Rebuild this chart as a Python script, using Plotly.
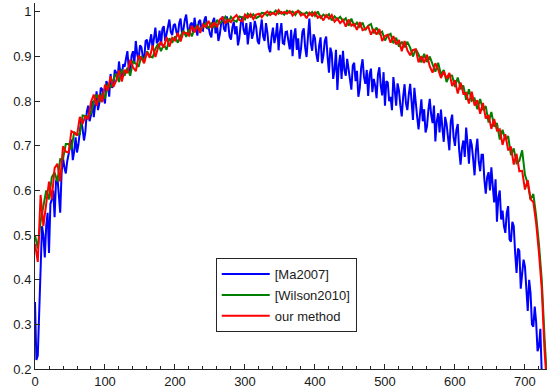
import plotly.graph_objects as go

# x positions (frame index)
frames_ma = list(range(0, 725, 2))   # [Ma2007] sampled every 2
frames = list(range(0, 733, 4))      # other methods sampled every 4

ma2007 = [
    0.35, 0.22, 0.23, 0.33, 0.38, 0.52, 0.50, 0.45, 0.52, 0.55, 0.46, 0.57, 0.58, 0.60, 0.54, 0.62, 0.63, 0.58, 0.55, 0.64,
    0.673, 0.652, 0.638, 0.665, 0.684, 0.705, 0.714, 0.668, 0.688, 0.719, 0.685, 0.703, 0.74, 0.758, 0.738, 0.712, 0.732, 0.776, 0.79, 0.755,
    0.769, 0.80, 0.764, 0.79, 0.822, 0.78, 0.796, 0.83, 0.827, 0.81, 0.795, 0.845, 0.836, 0.81, 0.861, 0.83, 0.835, 0.87, 0.864, 0.85,
    0.889, 0.862, 0.855, 0.883, 0.877, 0.895, 0.912, 0.872, 0.866, 0.902, 0.912, 0.885, 0.935, 0.905, 0.892, 0.925, 0.921, 0.90, 0.893, 0.935,
    0.938, 0.915, 0.933, 0.95, 0.918, 0.945, 0.965, 0.93, 0.935, 0.958, 0.925, 0.962, 0.968, 0.935, 0.951, 0.97, 0.983, 0.955, 0.948, 0.97,
    0.973, 0.955, 0.946, 0.975, 0.985, 0.952, 0.96, 0.982, 0.994, 0.965, 0.947, 0.972, 0.976, 0.955, 0.987, 0.962, 0.947, 0.978, 0.982, 0.96,
    0.958, 0.982, 0.99, 0.962, 0.966, 0.95, 0.943, 0.978, 0.987, 0.952, 0.973, 0.935, 0.949, 0.975, 0.99, 0.962, 0.956, 0.99, 0.974, 0.945,
    0.938, 0.965, 0.978, 0.95, 0.968, 0.925, 0.942, 0.975, 0.99, 0.96, 0.949, 0.975, 0.927, 0.955, 0.977, 0.94, 0.952, 0.98, 0.966, 0.935,
    0.928, 0.96, 0.983, 0.945, 0.935, 0.975, 0.954, 0.92, 0.91, 0.945, 0.965, 0.93, 0.946, 0.975, 0.914, 0.955, 0.975, 0.93, 0.928, 0.955,
    0.956, 0.935, 0.916, 0.96, 0.901, 0.945, 0.963, 0.915, 0.941, 0.895, 0.916, 0.955, 0.963, 0.92, 0.899, 0.945, 0.985, 0.93, 0.913, 0.95,
    0.941, 0.905, 0.888, 0.925, 0.943, 0.885, 0.902, 0.935, 0.945, 0.90, 0.864, 0.92, 0.907, 0.85, 0.87, 0.915, 0.825, 0.88, 0.904, 0.85,
    0.913, 0.87, 0.857, 0.895, 0.873, 0.84, 0.826, 0.88, 0.886, 0.845, 0.868, 0.81, 0.829, 0.875, 0.894, 0.855, 0.839, 0.87, 0.812, 0.86,
    0.873, 0.82, 0.85, 0.835, 0.807, 0.86, 0.876, 0.835, 0.813, 0.865, 0.79, 0.845, 0.842, 0.80, 0.81, 0.78, 0.854, 0.825, 0.79, 0.84,
    0.824, 0.79, 0.766, 0.81, 0.838, 0.795, 0.78, 0.815, 0.839, 0.80, 0.758, 0.83, 0.79, 0.765, 0.737, 0.78, 0.804, 0.755, 0.782, 0.73,
    0.743, 0.78, 0.805, 0.77, 0.751, 0.79, 0.71, 0.755, 0.773, 0.73, 0.781, 0.74, 0.709, 0.765, 0.749, 0.72, 0.69, 0.755, 0.77, 0.72,
    0.70, 0.735, 0.749, 0.69, 0.658, 0.695, 0.712, 0.675, 0.741, 0.705, 0.66, 0.715, 0.702, 0.67, 0.634, 0.69, 0.716, 0.665, 0.643, 0.68,
    0.68, 0.625, 0.593, 0.63, 0.641, 0.60, 0.652, 0.61, 0.573, 0.625, 0.53, 0.585, 0.60, 0.535, 0.555, 0.52, 0.505, 0.55, 0.565, 0.49,
    0.485, 0.53, 0.52, 0.46, 0.415, 0.47, 0.465, 0.38, 0.41, 0.445, 0.43, 0.385, 0.33, 0.40, 0.37, 0.30, 0.295, 0.34, 0.305, 0.24,
    0.25, 0.29, 0.19,
]

wilson2010 = [
    0.50, 0.47, 0.53, 0.57, 0.60, 0.58, 0.63, 0.64, 0.62, 0.67,
    0.671, 0.704, 0.704, 0.692, 0.731, 0.725, 0.726, 0.768, 0.767, 0.766,
    0.773, 0.799, 0.815, 0.798, 0.817, 0.806, 0.839, 0.831, 0.848, 0.862,
    0.843, 0.872, 0.857, 0.875, 0.857, 0.889, 0.884, 0.877, 0.901, 0.89,
    0.912, 0.901, 0.898, 0.917, 0.929, 0.912, 0.927, 0.915, 0.941, 0.931,
    0.945, 0.931, 0.946, 0.958, 0.944, 0.961, 0.945, 0.962, 0.97, 0.959,
    0.967, 0.975, 0.963, 0.976, 0.964, 0.982, 0.974, 0.98, 0.989, 0.976,
    0.989, 0.981, 0.978, 0.99, 0.988, 0.983, 0.996, 0.989, 0.995, 0.986,
    0.99, 0.998, 0.997, 0.992, 1.0, 0.996, 1.003, 0.996, 1.0, 0.994,
    1.003, 0.998, 1.001, 0.993, 1.003, 0.998, 0.994, 0.999, 0.994, 1.0,
    0.991, 1.001, 0.987, 0.994, 0.989, 0.995, 0.981, 0.99, 0.983, 0.989,
    0.98, 0.986, 0.969, 0.985, 0.969, 0.976, 0.967, 0.976, 0.959, 0.969,
    0.973, 0.952, 0.965, 0.951, 0.956, 0.936, 0.947, 0.951, 0.93, 0.942,
    0.922, 0.933, 0.921, 0.933, 0.92, 0.90, 0.917, 0.905, 0.887, 0.906,
    0.888, 0.90, 0.885, 0.866, 0.886, 0.86, 0.87, 0.843, 0.858, 0.857,
    0.832, 0.853, 0.829, 0.835, 0.803, 0.827, 0.801, 0.806, 0.782, 0.805,
    0.78, 0.789, 0.752, 0.776, 0.743, 0.751, 0.714, 0.736, 0.713, 0.722,
    0.679, 0.694, 0.661, 0.666, 0.69, 0.635, 0.615, 0.58, 0.592, 0.543,
    0.48, 0.40, 0.27, 0.16,
]

our_method = [
    0.48, 0.44, 0.59, 0.52, 0.57, 0.62, 0.58, 0.65, 0.66, 0.62,
    0.699, 0.687, 0.685, 0.733, 0.729, 0.723, 0.765, 0.749, 0.767, 0.759,
    0.798, 0.815, 0.79, 0.815, 0.798, 0.837, 0.824, 0.856, 0.832, 0.846,
    0.869, 0.844, 0.87, 0.863, 0.893, 0.876, 0.867, 0.901, 0.896, 0.885,
    0.91, 0.897, 0.925, 0.899, 0.921, 0.933, 0.92, 0.944, 0.922, 0.942,
    0.936, 0.953, 0.934, 0.954, 0.953, 0.947, 0.969, 0.954, 0.969, 0.953,
    0.972, 0.966, 0.98, 0.964, 0.977, 0.966, 0.983, 0.988, 0.974, 0.983,
    0.977, 0.987, 0.993, 0.982, 0.979, 0.994, 0.987, 0.995, 0.984, 0.994,
    0.996, 0.988, 0.996, 1.001, 0.993, 0.998, 0.993, 1.004, 0.996, 1.0,
    0.996, 1.002, 0.992, 0.999, 1.002, 0.992, 0.996, 0.986, 0.998, 0.991,
    0.999, 0.987, 0.991, 0.981, 0.993, 0.985, 0.993, 0.978, 0.985, 0.975,
    0.982, 0.967, 0.983, 0.969, 0.973, 0.96, 0.977, 0.959, 0.962, 0.968,
    0.949, 0.962, 0.949, 0.962, 0.935, 0.946, 0.949, 0.931, 0.946, 0.927,
    0.937, 0.912, 0.935, 0.914, 0.903, 0.915, 0.916, 0.887, 0.901, 0.886,
    0.904, 0.878, 0.864, 0.885, 0.871, 0.852, 0.867, 0.851, 0.863, 0.834,
    0.847, 0.817, 0.842, 0.817, 0.819, 0.795, 0.821, 0.79, 0.802, 0.772,
    0.796, 0.761, 0.769, 0.738, 0.76, 0.734, 0.737, 0.702, 0.726, 0.69,
    0.698, 0.658, 0.682, 0.643, 0.644, 0.602, 0.623, 0.58, 0.574, 0.527,
    0.46, 0.38, 0.24, 0.15,
]

series_names = ["[Ma2007]", "[Wilson2010]", "our method"]
series_colors = ["#0000ff", "#008000", "#ff0000"]
series_x = [frames_ma, frames, frames]
series_values = [ma2007, wilson2010, our_method]

x_ticks = [0, 100, 200, 300, 400, 500, 600, 700]
y_ticks = [0.2, 0.3, 0.4, 0.5, 0.6, 0.7, 0.8, 0.9, 1.0]
y_tick_text = ["0.2", "0.3", "0.4", "0.5", "0.6", "0.7", "0.8", "0.9", "1"]

fig = go.Figure()
for name, color, xs, vals in zip(series_names, series_colors, series_x, series_values):
    n = min(len(xs), len(vals))
    fig.add_trace(go.Scatter(
        x=xs[:n], y=vals[:n], mode="lines", name=name,
        legendgroup=name,
        line=dict(color=color, width=2),
    ))

axis_color = "#262626"
font = dict(family="Liberation Sans, Arial, Helvetica, sans-serif", size=13, color="#1a1a1a")

fig.update_layout(
    template="none",
    width=547, height=392,
    margin=dict(l=35, r=0, t=3, b=23, pad=0),
    paper_bgcolor="white", plot_bgcolor="white",
    font=font,
    showlegend=True,
    legend=dict(
        x=0.353, y=0.303, xanchor="left", yanchor="top",
        bgcolor="white", bordercolor="#262626", borderwidth=1,
        font=font, tracegroupgap=1, itemwidth=48,
    ),
    xaxis=dict(
        range=[0, 731.5], showgrid=False, zeroline=False, automargin=False,
        showline=True, linecolor=axis_color, linewidth=1,
        ticks="inside", ticklen=5, tickcolor=axis_color,
        tickvals=x_ticks, ticktext=[str(v) for v in x_ticks],
        minor=dict(ticks="inside", ticklen=3, dtick=20, tickcolor=axis_color, showgrid=False),
    ),
    yaxis=dict(
        range=[0.2, 1.02], showgrid=False, zeroline=False, automargin=False,
        showline=True, linecolor=axis_color, linewidth=1,
        ticks="inside", ticklen=5, tickcolor=axis_color,
        tickvals=y_ticks, ticktext=y_tick_text,
    ),
)

fig.write_html(
    "out.html",
    config={"displayModeBar": False},
    post_script="document.body.style.margin='0px';document.body.style.overflow='hidden';",
)
